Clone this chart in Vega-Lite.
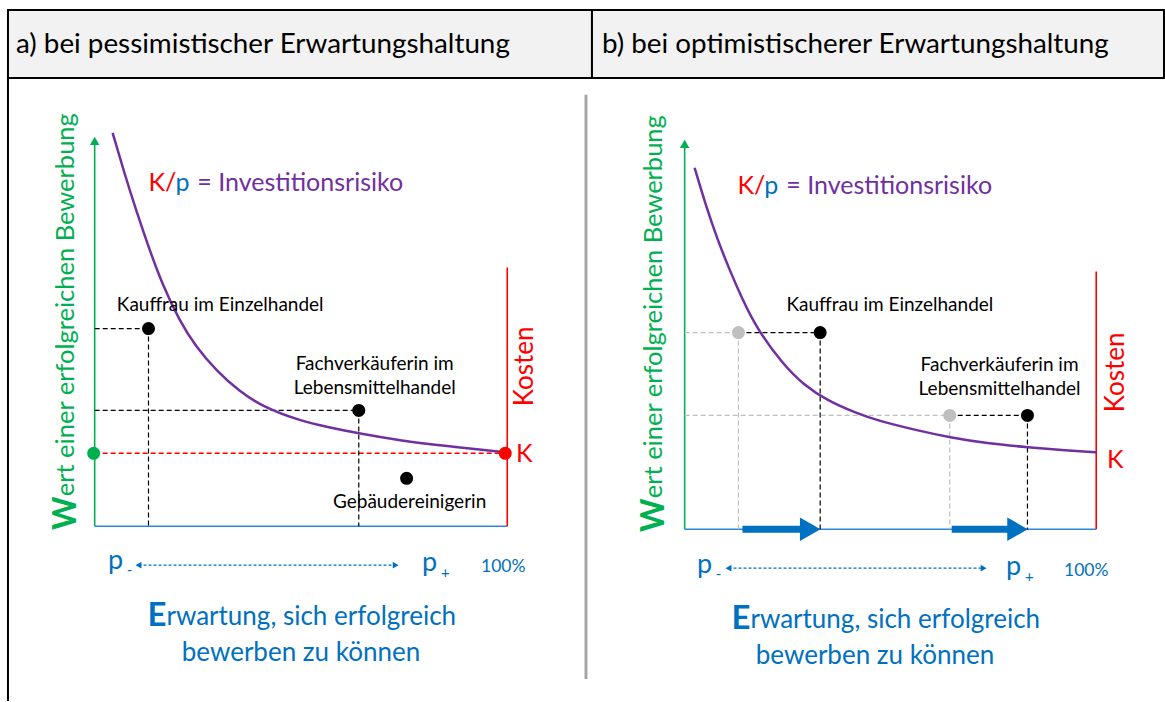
{
  "$schema": "https://vega.github.io/schema/vega-lite/v6.json",
  "width": 1165,
  "height": 702,
  "autosize": {"type": "fit", "contains": "padding"},
  "padding": 0,
  "background": "white",
  "config": {"view": {"stroke": null}, "text": {"font": "Lato"}},
  "datasets": {
    "cells": [
      {"x": 8, "x2": 594, "y": 10, "y2": 78},
      {"x": 594, "x2": 1168, "y": 10, "y2": 78}
    ],
    "lines": [
      {"x": 8, "y": 78, "x2": 8, "y2": 702, "kind": "table"},
      {"x": 588, "y": 95, "x2": 588, "y2": 680, "kind": "separator"},
      {"x": 95, "y": 527, "x2": 95, "y2": 142, "kind": "value axis"},
      {"x": 95, "y": 527, "x2": 509, "y2": 527, "kind": "expectation axis"},
      {"x": 509, "y": 268, "x2": 509, "y2": 527, "kind": "cost"},
      {"x": 95, "y": 454, "x2": 507, "y2": 454, "kind": "cost level"},
      {"x": 95, "y": 329, "x2": 149, "y2": 329, "kind": "guide"},
      {"x": 149, "y": 329, "x2": 149, "y2": 527, "kind": "guide"},
      {"x": 95, "y": 411, "x2": 360, "y2": 411, "kind": "guide"},
      {"x": 360, "y": 411, "x2": 360, "y2": 527, "kind": "guide"},
      {"x": 139, "y": 566, "x2": 397, "y2": 566, "kind": "range"},
      {"x": 687, "y": 530, "x2": 687, "y2": 145, "kind": "value axis"},
      {"x": 687, "y": 530, "x2": 1100, "y2": 530, "kind": "expectation axis"},
      {"x": 1100, "y": 272, "x2": 1100, "y2": 530, "kind": "cost"},
      {"x": 687, "y": 333, "x2": 741, "y2": 333, "kind": "previous guide"},
      {"x": 741, "y": 333, "x2": 741, "y2": 530, "kind": "previous guide"},
      {"x": 741, "y": 333, "x2": 823, "y2": 333, "kind": "guide"},
      {"x": 823, "y": 333, "x2": 823, "y2": 530, "kind": "guide"},
      {"x": 687, "y": 416, "x2": 953, "y2": 416, "kind": "previous guide"},
      {"x": 953, "y": 416, "x2": 953, "y2": 530, "kind": "previous guide"},
      {"x": 953, "y": 416, "x2": 1031, "y2": 416, "kind": "guide"},
      {"x": 1031, "y": 416, "x2": 1031, "y2": 530, "kind": "guide"},
      {"x": 745, "y": 530, "x2": 806, "y2": 530, "kind": "shift"},
      {"x": 955, "y": 530, "x2": 1014, "y2": 530, "kind": "shift"},
      {"x": 731, "y": 569, "x2": 987, "y2": 569, "kind": "range"}
    ],
    "curves": [
      {"panel": "a", "x": 113, "y": 133},
      {"panel": "a", "x": 125, "y": 174},
      {"panel": "a", "x": 137, "y": 212},
      {"panel": "a", "x": 150, "y": 250},
      {"panel": "a", "x": 163, "y": 285},
      {"panel": "a", "x": 180, "y": 321},
      {"panel": "a", "x": 197, "y": 348},
      {"panel": "a", "x": 217, "y": 371},
      {"panel": "a", "x": 240, "y": 392},
      {"panel": "a", "x": 265, "y": 408},
      {"panel": "a", "x": 300, "y": 421},
      {"panel": "a", "x": 330, "y": 428},
      {"panel": "a", "x": 360, "y": 434},
      {"panel": "a", "x": 400, "y": 441},
      {"panel": "a", "x": 450, "y": 447},
      {"panel": "a", "x": 507, "y": 453},
      {"panel": "b", "x": 697, "y": 168},
      {"panel": "b", "x": 708, "y": 205},
      {"panel": "b", "x": 720, "y": 240},
      {"panel": "b", "x": 732, "y": 270},
      {"panel": "b", "x": 745, "y": 300},
      {"panel": "b", "x": 760, "y": 330},
      {"panel": "b", "x": 785, "y": 364},
      {"panel": "b", "x": 807, "y": 386},
      {"panel": "b", "x": 830, "y": 401},
      {"panel": "b", "x": 860, "y": 414},
      {"panel": "b", "x": 880, "y": 421},
      {"panel": "b", "x": 920, "y": 431},
      {"panel": "b", "x": 953, "y": 438},
      {"panel": "b", "x": 990, "y": 444},
      {"panel": "b", "x": 1032, "y": 448},
      {"panel": "b", "x": 1070, "y": 451},
      {"panel": "b", "x": 1100, "y": 453}
    ],
    "dots": [
      {"x": 94, "y": 454, "kind": "value level"},
      {"x": 507, "y": 454, "kind": "cost level"},
      {"x": 149, "y": 329, "kind": "job"},
      {"x": 360, "y": 411, "kind": "job"},
      {"x": 408, "y": 479, "kind": "job"},
      {"x": 741, "y": 333, "kind": "previous"},
      {"x": 823, "y": 333, "kind": "job"},
      {"x": 953, "y": 416, "kind": "previous"},
      {"x": 1031, "y": 416, "kind": "job"}
    ],
    "heads": [
      {"x": 95, "y": 141, "dir": "up", "kind": "value axis"},
      {"x": 687, "y": 144, "dir": "up", "kind": "value axis"},
      {"x": 139, "y": 566, "dir": "left", "kind": "range"},
      {"x": 397, "y": 566, "dir": "right", "kind": "range"},
      {"x": 731, "y": 569, "dir": "left", "kind": "range"},
      {"x": 987, "y": 569, "dir": "right", "kind": "range"},
      {"x": 813, "y": 530, "dir": "right", "kind": "shift"},
      {"x": 1021, "y": 530, "dir": "right", "kind": "shift"}
    ],
    "textsLeft": [
      {"x": 16, "y": 45, "label": "a) bei pessimistischer Erwartungshaltung", "role": "header"},
      {"x": 604, "y": 45, "label": "b) bei optimistischerer Erwartungshaltung", "role": "header"},
      {"x": 149, "y": 183, "label": "K/", "role": "formula cost"},
      {"x": 176, "y": 183, "label": "p", "role": "formula chance"},
      {"x": 198, "y": 183, "label": "= Investitionsrisiko", "role": "formula risk"},
      {"x": 740, "y": 186, "label": "K/", "role": "formula cost"},
      {"x": 767, "y": 186, "label": "p", "role": "formula chance"},
      {"x": 789, "y": 186, "label": "= Investitionsrisiko", "role": "formula risk"},
      {"x": 167, "y": 618, "label": "rwartung, sich erfolgreich", "role": "expectation"},
      {"x": 753, "y": 621, "label": "rwartung, sich erfolgreich", "role": "expectation"}
    ],
    "textsCenter": [
      {"x": 221, "y": 305, "label": "Kauffrau im Einzelhandel", "role": "job"},
      {"x": 376, "y": 365, "label": "Fachverkäuferin im", "role": "job"},
      {"x": 376, "y": 389, "label": "Lebensmittelhandel", "role": "job"},
      {"x": 411, "y": 503, "label": "Gebäudereinigerin", "role": "job"},
      {"x": 893, "y": 305, "label": "Kauffrau im Einzelhandel", "role": "job"},
      {"x": 1003, "y": 366, "label": "Fachverkäuferin im", "role": "job"},
      {"x": 1003, "y": 390, "label": "Lebensmittelhandel", "role": "job"},
      {"x": 302, "y": 654, "label": "bewerben zu können", "role": "expectation"},
      {"x": 878, "y": 657, "label": "bewerben zu können", "role": "expectation"},
      {"x": 116, "y": 562, "label": "p", "role": "probability"},
      {"x": 130, "y": 571, "label": "-", "role": "probability index"},
      {"x": 431, "y": 564, "label": "p", "role": "probability"},
      {"x": 447, "y": 574, "label": "+", "role": "probability index"},
      {"x": 707, "y": 566, "label": "p", "role": "probability"},
      {"x": 721, "y": 575, "label": "-", "role": "probability index"},
      {"x": 1017, "y": 568, "label": "p", "role": "probability"},
      {"x": 1033, "y": 578, "label": "+", "role": "probability index"},
      {"x": 505, "y": 568, "label": "100%", "role": "certainty"},
      {"x": 1090, "y": 572, "label": "100%", "role": "certainty"},
      {"x": 526, "y": 455, "label": "K", "role": "cost"},
      {"x": 1119, "y": 461, "label": "K", "role": "cost"}
    ],
    "initials": [
      {"x": 167, "y": 617, "label": "E"},
      {"x": 753, "y": 620, "label": "E"}
    ],
    "rotatedTitles": [
      {"x": 66, "y": 497, "label": "ert einer erfolgreichen Bewerbung"},
      {"x": 656, "y": 499, "label": "ert einer erfolgreichen Bewerbung"}
    ],
    "rotatedInitials": [
      {"x": 66, "y": 497, "label": "W"},
      {"x": 656, "y": 499, "label": "W"}
    ],
    "costTitles": [
      {"x": 527, "y": 367, "label": "Kosten"},
      {"x": 1120, "y": 373, "label": "Kosten"}
    ]
  },
  "encoding": {
    "x": {"field": "x", "type": "quantitative", "scale": {"domain": [0, 1165], "nice": false, "zero": false}, "axis": null},
    "y": {"field": "y", "type": "quantitative", "scale": {"domain": [0, 702], "reverse": true, "nice": false, "zero": false}, "axis": null}
  },
  "resolve": {"scale": {"color": "independent", "size": "independent", "strokeDash": "independent", "shape": "independent"}},
  "layer": [
    {
      "data": {"name": "cells"},
      "mark": {"type": "rect", "fill": "#F2F2F2", "stroke": "#000000", "strokeWidth": 2},
      "encoding": {"x2": {"field": "x2"}, "y2": {"field": "y2"}}
    },
    {
      "data": {"name": "lines"},
      "mark": {"type": "rule", "strokeCap": "butt"},
      "encoding": {
        "x2": {"field": "x2"},
        "y2": {"field": "y2"},
        "color": {"field": "kind", "type": "nominal", "legend": null,
          "scale": {"domain": ["table", "separator", "value axis", "expectation axis", "cost", "cost level", "guide", "previous guide", "shift", "range"],
                    "range": ["#000000", "#A6A6A6", "#00B050", "#2E86DE", "#FF0000", "#FF0000", "#000000", "#BFBFBF", "#0070C0", "#0070C0"]}},
        "size": {"field": "kind", "type": "nominal", "legend": null,
          "scale": {"type": "ordinal", "domain": ["table", "separator", "value axis", "expectation axis", "cost", "cost level", "guide", "previous guide", "shift", "range"],
                    "range": [2, 3, 1.6, 1.6, 1.6, 1.5, 1.2, 1.2, 7, 1.2]}},
        "strokeDash": {"field": "kind", "type": "nominal", "legend": null,
          "scale": {"domain": ["table", "separator", "value axis", "expectation axis", "cost", "cost level", "guide", "previous guide", "shift", "range"],
                    "range": [[1, 0], [1, 0], [1, 0], [1, 0], [1, 0], [5, 3], [5, 3], [5, 3], [1, 0], [3, 2]]}}
      }
    },
    {
      "data": {"name": "curves"},
      "mark": {"type": "line", "interpolate": "basis", "color": "#7030A0", "strokeWidth": 2.5},
      "encoding": {"detail": {"field": "panel", "type": "nominal"}}
    },
    {
      "data": {"name": "dots"},
      "mark": {"type": "point", "shape": "circle", "filled": true, "opacity": 1, "size": 170},
      "encoding": {
        "color": {"field": "kind", "type": "nominal", "legend": null,
          "scale": {"domain": ["job", "previous", "value level", "cost level"], "range": ["#000000", "#BFBFBF", "#00B050", "#FF0000"]}}
      }
    },
    {
      "data": {"name": "heads"},
      "mark": {"type": "point", "filled": true, "opacity": 1},
      "encoding": {
        "shape": {"field": "dir", "type": "nominal", "legend": null,
          "scale": {"domain": ["up", "left", "right"], "range": ["triangle-up", "triangle-left", "triangle-right"]}},
        "size": {"field": "kind", "type": "nominal", "legend": null,
          "scale": {"type": "ordinal", "domain": ["value axis", "range", "shift"], "range": [90, 45, 560]}},
        "color": {"field": "kind", "type": "nominal", "legend": null,
          "scale": {"domain": ["value axis", "range", "shift"], "range": ["#00B050", "#0070C0", "#0070C0"]}}
      }
    },
    {
      "data": {"name": "textsLeft"},
      "mark": {"type": "text", "align": "left", "baseline": "middle"},
      "encoding": {
        "text": {"field": "label"},
        "color": {"field": "role", "type": "nominal", "legend": null,
          "scale": {"domain": ["header", "formula cost", "formula chance", "formula risk", "expectation"],
                    "range": ["#000000", "#FF0000", "#0070C0", "#7030A0", "#0070C0"]}},
        "size": {"field": "role", "type": "nominal", "legend": null,
          "scale": {"type": "ordinal", "domain": ["header", "formula cost", "formula chance", "formula risk", "expectation"],
                    "range": [27.8, 25, 25, 25, 26]}}
      }
    },
    {
      "data": {"name": "textsCenter"},
      "mark": {"type": "text", "align": "center", "baseline": "middle"},
      "encoding": {
        "text": {"field": "label"},
        "color": {"field": "role", "type": "nominal", "legend": null,
          "scale": {"domain": ["job", "expectation", "probability", "probability index", "certainty", "cost"],
                    "range": ["#000000", "#0070C0", "#0070C0", "#0070C0", "#0070C0", "#FF0000"]}},
        "size": {"field": "role", "type": "nominal", "legend": null,
          "scale": {"type": "ordinal", "domain": ["job", "expectation", "probability", "probability index", "certainty", "cost"],
                    "range": [19, 26, 27, 15, 17.5, 25]}}
      }
    },
    {
      "data": {"name": "initials"},
      "mark": {"type": "text", "align": "right", "baseline": "middle", "fontWeight": "bold", "fontSize": 33, "color": "#0070C0"},
      "encoding": {"text": {"field": "label"}}
    },
    {
      "data": {"name": "rotatedTitles"},
      "mark": {"type": "text", "align": "left", "baseline": "middle", "angle": 270, "fontSize": 25.5, "color": "#00B050"},
      "encoding": {"text": {"field": "label"}}
    },
    {
      "data": {"name": "rotatedInitials"},
      "mark": {"type": "text", "align": "right", "baseline": "middle", "angle": 270, "fontWeight": "bold", "fontSize": 32, "color": "#00B050"},
      "encoding": {"text": {"field": "label"}}
    },
    {
      "data": {"name": "costTitles"},
      "mark": {"type": "text", "align": "center", "baseline": "middle", "angle": 270, "fontSize": 26, "color": "#FF0000"},
      "encoding": {"text": {"field": "label"}}
    }
  ]
}
